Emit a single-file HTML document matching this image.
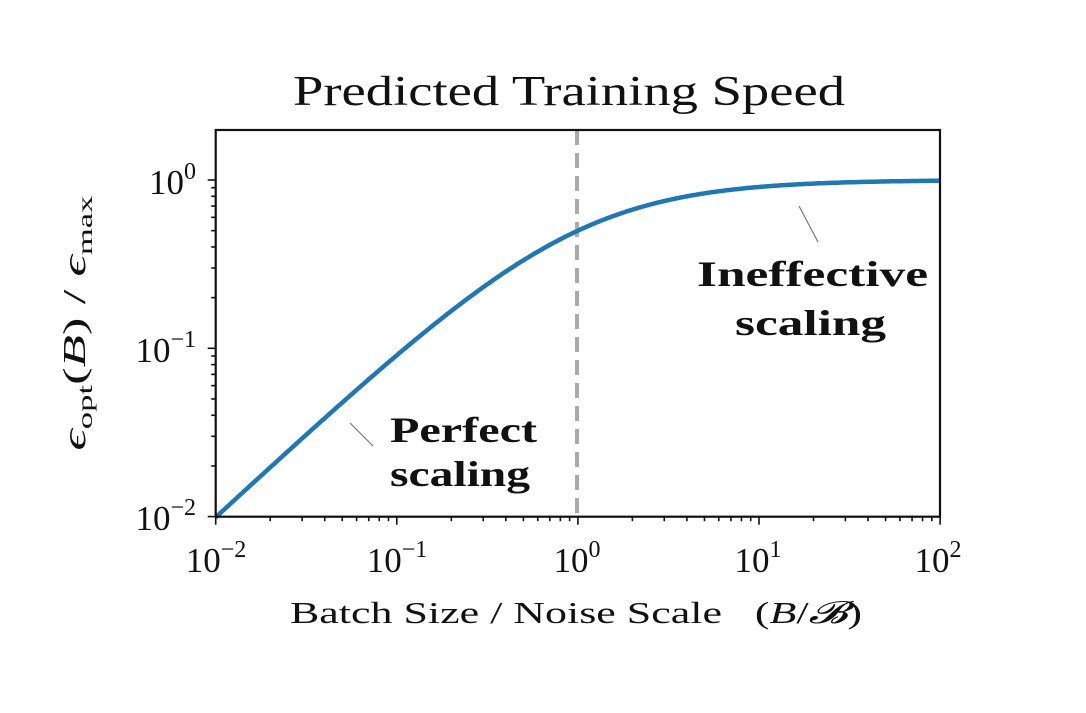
<!DOCTYPE html>
<html><head><meta charset="utf-8"><style>
body{margin:0;background:#fff;}
svg text{font-family:"Liberation Serif","DejaVu Serif",serif;fill:#111;font-weight:normal;}
</style></head><body>
<svg id="s" width="1086" height="708" xmlns="http://www.w3.org/2000/svg">
<rect width="1086" height="708" fill="#fff"/>
<text x="293" y="105" font-size="42" textLength="552" lengthAdjust="spacingAndGlyphs">Predicted Training Speed</text>
<g id="ticks" stroke="#111" stroke-width="1.6"></g>
<line x1="577" y1="130" x2="577" y2="517" stroke="#aaa" stroke-width="4" stroke-dasharray="15,8"/>
<path id="curve" fill="none" stroke="#1f77b4" stroke-width="4.5"/>
<rect x="215.7" y="130" width="724.3" height="386.7" fill="none" stroke="#111" stroke-width="2.2"/>
<line x1="350" y1="423" x2="373" y2="446" stroke="#777" stroke-width="1.2"/>
<line x1="799" y1="206" x2="818" y2="242" stroke="#777" stroke-width="1.2"/>
<text x="390" y="442" font-size="36" style="font-weight:bold" textLength="147" lengthAdjust="spacingAndGlyphs">Perfect</text>
<text x="390" y="486" font-size="36" style="font-weight:bold" textLength="140" lengthAdjust="spacingAndGlyphs">scaling</text>
<text x="697" y="286" font-size="36" style="font-weight:bold" textLength="231" lengthAdjust="spacingAndGlyphs">Ineffective</text>
<text x="735" y="335" font-size="36" style="font-weight:bold" textLength="151" lengthAdjust="spacingAndGlyphs">scaling</text>
<g font-size="35">
<text x="196" y="194" text-anchor="end">10<tspan dy="-15" font-size="24">0</tspan></text>
<text x="196" y="362" text-anchor="end">10<tspan dy="-15" font-size="24">−1</tspan></text>
<text x="196" y="530" text-anchor="end">10<tspan dy="-15" font-size="24">−2</tspan></text>
<text x="216" y="572" text-anchor="middle">10<tspan dy="-15" font-size="24">−2</tspan></text>
<text x="397" y="572" text-anchor="middle">10<tspan dy="-15" font-size="24">−1</tspan></text>
<text x="577" y="572" text-anchor="middle">10<tspan dy="-15" font-size="24">0</tspan></text>
<text x="758" y="572" text-anchor="middle">10<tspan dy="-15" font-size="24">1</tspan></text>
<text x="938" y="572" text-anchor="middle">10<tspan dy="-15" font-size="24">2</tspan></text>
</g>
<text x="290" y="623" font-size="31" textLength="572" lengthAdjust="spacingAndGlyphs">Batch Size / Noise Scale &#160;&#160;(<tspan font-style="italic">B</tspan>/<tspan font-style="italic">𝓑</tspan>)</text>
<text transform="translate(85,323) rotate(-90)" font-size="32" text-anchor="middle" textLength="255" lengthAdjust="spacingAndGlyphs"><tspan font-style="italic">ϵ</tspan><tspan font-size="21" dy="7">opt</tspan><tspan dy="-7">(</tspan><tspan font-style="italic">B</tspan>) / <tspan font-style="italic">ϵ</tspan><tspan font-size="21" dy="7">max</tspan></text>
</svg>
<script>
var X0=215.7,DX=181.1,Y0=180,DY=168.3;
function px(l){return X0+(l+2)*DX;}function py(l){return Y0-l*DY;}
var d="";for(var i=0;i<=400;i++){var l=-2+4*i/400,x=Math.pow(10,l),y=x/(1+x);d+=(i?"L":"M")+px(l).toFixed(1)+","+py(Math.log10(y)).toFixed(1);}
document.getElementById("curve").setAttribute("d",d);
var t="";
for(var e=-2;e<=2;e++){for(var m=1;m<=9;m++){if(e==2&&m>1)break;var l=e+Math.log10(m),x=px(l),L=m==1?8:4.5;t+='<line x1="'+x+'" y1="516.7" x2="'+x+'" y2="'+(516.7+L)+'"/>';}}
for(var e=-2;e<=0;e++){for(var m=1;m<=9;m++){var l=e+Math.log10(m),y=py(l);if(y<130)break;var L=m==1?8:4.5;t+='<line x1="'+(215.7-L)+'" y1="'+y+'" x2="215.7" y2="'+y+'"/>';}}
document.getElementById("ticks").innerHTML=t;
</script>
</body></html>
